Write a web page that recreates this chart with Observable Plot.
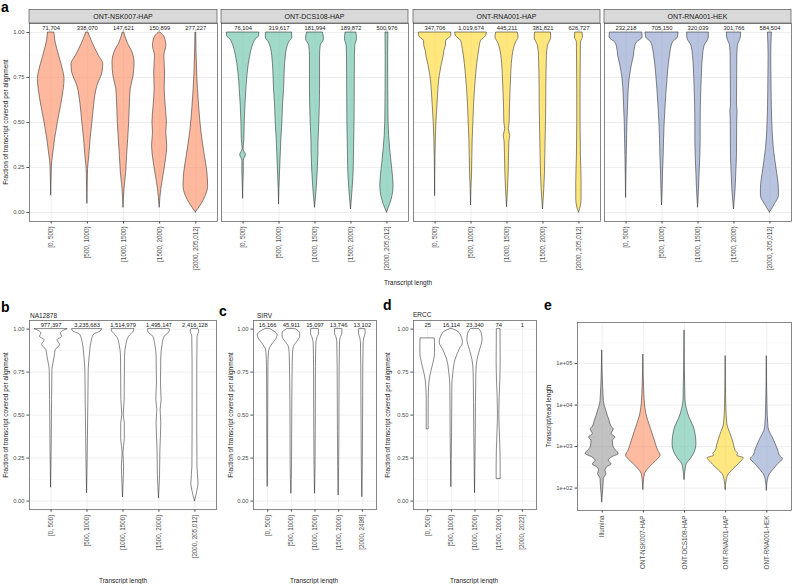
<!DOCTYPE html>
<html><head><meta charset="utf-8">
<script src="https://cdn.jsdelivr.net/npm/d3@7"></script>
<script src="https://cdn.jsdelivr.net/npm/@observablehq/plot@0.6"></script>
<style>
body{margin:0;background:#fff;}
#root{position:relative;width:792px;height:584px;overflow:hidden;background:#fff;}
</style></head><body><div id="root"></div>
<script>
// ---------- data ----------
const binsHuman = ["[0, 500)", "[500, 1000)", "[1000, 1500)", "[1500, 2000)", "[2000, 205,012]"];
const binsSIRV = ["[0, 500)", "[500, 1000)", "[1000, 1500)", "[1500, 2000)", "[2000, 2498]"];
const binsERCC = ["[0, 500)", "[500, 1000)", "[1000, 1500)", "[1500, 2000)", "[2000, 2022]"];
const ontSamples = ["ONT-NSK007-HAP", "ONT-DCS108-HAP", "ONT-RNA001-HAP", "ONT-RNA001-HEK"];
const lengthSamples = ["Illumina", "ONT-NSK007-HAP", "ONT-DCS108-HAP", "ONT-RNA001-HAP", "ONT-RNA001-HEK"];
const sampleColors = ["#999999", "#FC8D62", "#66C2A5", "#FFD92F", "#8DA0CB"];

const countsNSK007 = [71704, 338070, 147621, 150899, 277227];
const countsDCS108 = [76104, 319617, 181994, 189872, 500976];
const countsRNA001HAP = [347706, 1019674, 445211, 381821, 626727];
const countsRNA001HEK = [232218, 705150, 320039, 301766, 584504];
const countsNA12878 = [977397, 3235683, 1514979, 1495147, 2416128];
const countsSIRV = [16166, 45911, 15097, 13746, 13102];
const countsERCC = [25, 16114, 23340, 74, 1];

// violin profiles: [fraction covered, half-width in category units]
const violinNSK007 = [
 [[1,0.088],[0.96,0.11],[0.87,0.22],[0.78,0.34],[0.74,0.37],[0.69,0.35],[0.59,0.27],[0.5,0.185],[0.41,0.11],[0.31,0.046],[0.26,0.02],[0.19,0.01],[0.096,0]],
 [[1,0.03],[0.944,0.14],[0.87,0.32],[0.824,0.44],[0.778,0.42],[0.704,0.28],[0.593,0.185],[0.5,0.14],[0.407,0.09],[0.315,0.055],[0.241,0.02],[0.167,0.01],[0.05,0]],
 [[1,0.02],[0.944,0.11],[0.889,0.25],[0.833,0.305],[0.759,0.28],[0.685,0.2],[0.593,0.175],[0.5,0.157],[0.407,0.13],[0.315,0.1],[0.222,0.074],[0.13,0.028],[0.028,0]],
 [[1,0.02],[0.972,0.14],[0.926,0.185],[0.87,0.13],[0.778,0.15],[0.685,0.14],[0.593,0.167],[0.5,0.2],[0.444,0.185],[0.37,0.21],[0.296,0.176],[0.222,0.12],[0.13,0.046],[0.028,0]],
 [[1,0.01],[0.778,0.037],[0.593,0.09],[0.444,0.157],[0.315,0.25],[0.222,0.32],[0.148,0.34],[0.093,0.28],[0.046,0.157],[0,0]]
];
const violinDCS108 = [
 [[1,0.45],[0.981,0.45],[0.963,0.36],[0.926,0.27],[0.87,0.2],[0.778,0.13],[0.685,0.093],[0.593,0.065],[0.5,0.046],[0.407,0.037],[0.352,0.012],[0.319,0.08],[0.287,0.02],[0.222,0.02],[0.167,0.01],[0.078,0]],
 [[1,0.36],[0.972,0.37],[0.944,0.28],[0.87,0.19],[0.778,0.157],[0.685,0.14],[0.593,0.11],[0.5,0.093],[0.407,0.065],[0.315,0.046],[0.222,0.028],[0.13,0.01],[0.046,0]],
 [[1,0.22],[0.963,0.25],[0.926,0.16],[0.87,0.14],[0.685,0.14],[0.5,0.12],[0.407,0.1],[0.315,0.093],[0.222,0.074],[0.13,0.046],[0.028,0]],
 [[1,0.15],[0.963,0.167],[0.926,0.12],[0.87,0.11],[0.5,0.1],[0.315,0.083],[0.222,0.074],[0.13,0.046],[0.019,0]],
 [[1,0.04],[0.87,0.035],[0.685,0.037],[0.5,0.046],[0.352,0.09],[0.241,0.148],[0.148,0.185],[0.093,0.157],[0.046,0.09],[0,0]]
];
const violinRNA001HAP = [
 [[1,0.45],[0.981,0.45],[0.954,0.31],[0.926,0.3],[0.898,0.26],[0.87,0.24],[0.815,0.18],[0.759,0.13],[0.685,0.093],[0.593,0.065],[0.5,0.037],[0.407,0.02],[0.315,0.01],[0.093,0]],
 [[1,0.44],[0.981,0.42],[0.954,0.28],[0.907,0.23],[0.87,0.2],[0.778,0.148],[0.685,0.11],[0.593,0.083],[0.5,0.065],[0.407,0.046],[0.315,0.037],[0.222,0.028],[0.13,0.01],[0.041,0]],
 [[1,0.3],[0.972,0.32],[0.944,0.25],[0.87,0.157],[0.778,0.12],[0.685,0.1],[0.593,0.083],[0.5,0.074],[0.463,0.05],[0.426,0.09],[0.389,0.065],[0.315,0.056],[0.222,0.046],[0.13,0.028],[0.031,0]],
 [[1,0.22],[0.972,0.23],[0.926,0.14],[0.87,0.11],[0.685,0.093],[0.574,0.09],[0.5,0.083],[0.315,0.065],[0.222,0.056],[0.13,0.037],[0.019,0]],
 [[1,0.1],[0.972,0.11],[0.944,0.056],[0.685,0.046],[0.5,0.046],[0.315,0.056],[0.167,0.074],[0.074,0.074],[0.028,0.046],[0,0]]
];
const violinRNA001HEK = [
 [[1,0.45],[0.972,0.46],[0.944,0.3],[0.917,0.25],[0.87,0.22],[0.815,0.157],[0.759,0.11],[0.685,0.074],[0.593,0.056],[0.5,0.037],[0.407,0.028],[0.315,0.018],[0.083,0]],
 [[1,0.46],[0.972,0.44],[0.944,0.3],[0.87,0.22],[0.778,0.167],[0.685,0.13],[0.593,0.1],[0.5,0.074],[0.407,0.056],[0.315,0.046],[0.222,0.028],[0.13,0.018],[0.041,0]],
 [[1,0.3],[0.972,0.3],[0.926,0.185],[0.87,0.14],[0.778,0.11],[0.685,0.093],[0.5,0.074],[0.407,0.074],[0.315,0.065],[0.222,0.046],[0.13,0.028],[0.028,0]],
 [[1,0.2],[0.972,0.19],[0.926,0.11],[0.87,0.093],[0.593,0.083],[0.565,0.1],[0.5,0.09],[0.315,0.083],[0.222,0.065],[0.13,0.046],[0.019,0]],
 [[1,0.055],[0.87,0.037],[0.685,0.046],[0.5,0.065],[0.352,0.11],[0.241,0.185],[0.13,0.25],[0.093,0.25],[0.046,0.14],[0,0]]
];
const violinNA12878 = [
 [[1,0.46],[0.975,0.27],[0.955,0.31],[0.936,0.18],[0.907,0.25],[0.878,0.13],[0.839,0.1],[0.8,0.065],[0.762,0.037],[0.587,0.028],[0.3,0.015],[0.08,0]],
 [[1,0.42],[0.986,0.38],[0.967,0.19],[0.919,0.12],[0.839,0.074],[0.762,0.046],[0.587,0.037],[0.3,0.02],[0.047,0]],
 [[1,0.32],[0.986,0.3],[0.955,0.167],[0.907,0.093],[0.839,0.056],[0.587,0.046],[0.5,0.02],[0.45,0.05],[0.36,0.05],[0.28,0.01],[0.2,0.03],[0.1,0.015],[0.023,0]],
 [[1,0.3],[0.986,0.3],[0.955,0.157],[0.907,0.1],[0.839,0.065],[0.684,0.056],[0.587,0.074],[0.529,0.046],[0.452,0.065],[0.3,0.04],[0.15,0.03],[0.017,0]],
 [[1,0.1],[0.986,0.12],[0.955,0.074],[0.8,0.065],[0.4,0.065],[0.2,0.07],[0.1,0.1],[0.06,0.07],[0,0]]
];
const violinSIRV = [
 [[1,0.1],[0.984,0.3],[0.965,0.42],[0.945,0.38],[0.92,0.25],[0.89,0.1],[0.86,0.05],[0.78,0.03],[0.5,0.02],[0.2,0.015],[0.085,0]],
 [[1,0.18],[0.975,0.37],[0.955,0.37],[0.926,0.25],[0.897,0.11],[0.859,0.07],[0.78,0.056],[0.587,0.04],[0.2,0.028],[0.045,0]],
 [[1,0.16],[0.975,0.17],[0.947,0.1],[0.916,0.056],[0.78,0.04],[0.4,0.03],[0.2,0.02],[0.045,0]],
 [[1,0.155],[0.975,0.155],[0.947,0.085],[0.916,0.056],[0.78,0.042],[0.4,0.03],[0.2,0.02],[0.035,0]],
 [[1,0.13],[0.975,0.14],[0.947,0.085],[0.916,0.056],[0.78,0.042],[0.4,0.03],[0.2,0.02],[0.025,0]]
];
const violinERCC = [
 [[0.946,0.3],[0.918,0.31],[0.86,0.31],[0.783,0.21],[0.725,0.11],[0.667,0.06],[0.589,0.042],[0.419,0.04]],
 [[1,0.05],[0.977,0.35],[0.919,0.49],[0.88,0.35],[0.822,0.18],[0.744,0.085],[0.667,0.042],[0.395,0.03],[0.083,0]],
 [[1,0.18],[0.977,0.28],[0.938,0.32],[0.88,0.22],[0.822,0.11],[0.744,0.056],[0.395,0.03],[0.048,0]],
 [[1,0.077],[0.8,0.085],[0.7,0.07],[0.6,0.042],[0.5,0.028],[0.4,0.05],[0.3,0.075],[0.2,0.085],[0.13,0.085]],
 []
];
// panel e: [log10(length), half-width]
const violinLengths = [
 [[5.32,0],[4.1,0.04],[3.86,0.1],[3.62,0.18],[3.46,0.24],[3.42,0.28],[3.3,0.23],[3.22,0.32],[3.14,0.26],[2.98,0.28],[2.82,0.4],[2.74,0.24],[2.66,0.16],[2.57,0.23],[2.5,0.12],[2.42,0.08],[2.34,0.1],[2.22,0.04],[2.02,0.03],[1.86,0.016],[1.66,0]],
 [[5.22,0],[4.26,0.024],[3.8,0.07],[3.62,0.12],[3.38,0.2],[3.14,0.28],[2.9,0.36],[2.78,0.42],[2.66,0.32],[2.5,0.16],[2.34,0.04],[2.18,0.016],[1.96,0]],
 [[5.8,0],[4.1,0.024],[3.9,0.06],[3.7,0.12],[3.46,0.23],[3.22,0.28],[3.06,0.29],[2.82,0.23],[2.66,0.12],[2.58,0.056],[2.42,0.024],[2.2,0]],
 [[5.18,0],[4.0,0.015],[3.54,0.04],[3.3,0.12],[3.06,0.2],[2.9,0.24],[2.82,0.3],[2.78,0.28],[2.72,0.44],[2.66,0.4],[2.54,0.28],[2.42,0.16],[2.34,0.08],[2.18,0.024],[1.96,0]],
 [[5.18,0],[4.0,0.015],[3.46,0.04],[3.14,0.18],[2.9,0.28],[2.78,0.32],[2.7,0.39],[2.58,0.28],[2.46,0.18],[2.34,0.08],[2.18,0.024],[1.94,0]]
];

const fracTicks = [0, 0.25, 0.5, 0.75, 1];
const fracMinor = [0.125, 0.375, 0.625, 0.875];
const lenTicks = [1e2, 1e3, 1e4, 1e5];
const lenMinor = [1.5, 2.5, 3.5, 4.5, 5.5].map(v => 10 ** v);

// ---------- drawing ----------
const root = document.getElementById("root");
const FONT = "'Liberation Sans', Arial, Helvetica, sans-serif";
const fmtCount = d3.format(",");

function violinPanel(o) {
  const mL = o.mL ?? 30, mR = 4, mT = 14, mB = 66;
  const w = o.R - o.L, h = o.B - o.T;
  const data = [];
  o.profiles.forEach((prof, k) => prof.forEach(([y, hw]) => data.push({i: k + 1, y: o.log ? 10 ** y : y, hw})));
  data.sort((a, b) => a.i - b.i || a.y - b.y);
  const marks = [
    Plot.gridY(o.minor, {stroke: "#efefef", strokeOpacity: 1, strokeWidth: 0.35}),
    Plot.gridY(o.major, {stroke: "#e4e4e4", strokeOpacity: 1, strokeWidth: 0.6}),
    Plot.gridX([1, 2, 3, 4, 5], {stroke: "#e4e4e4", strokeOpacity: 1, strokeWidth: 0.6}),
    Plot.areaX(data, {
      y: "y", x1: d => d.i - d.hw, x2: d => d.i + d.hw, z: "i",
      fill: d => o.fills[d.i - 1], fillOpacity: o.fillOpacity,
      stroke: "#262626", strokeWidth: 0.55, curve: "monotone-y"
    }),
    Plot.axisX([1, 2, 3, 4, 5], {
      tickFormat: i => o.labels[i - 1], tickRotate: -90, tickSize: 2.5, tickPadding: 2.5,
      fontSize: o.xFont ?? 6.3, label: null, color: "#4d4d4d"
    })
  ];
  if (o.showY) marks.push(Plot.axisY(o.major, {
    tickFormat: o.yFormat, tickSize: 2.5, tickPadding: 2.5, fontSize: 5.8, label: null, color: "#4d4d4d"
  }));
  if (o.counts) marks.push(Plot.text(o.counts, {
    x: (d, i) => i + 1, y: 1, text: d => fmtCount(d), dy: o.countDy ?? -4.3,
    fontSize: 5.8, fill: "#1a1a1a"
  }));
  marks.push(Plot.frame({stroke: "#555", strokeWidth: 0.7}));
  const plot = Plot.plot({
    width: w + mL + mR, height: h + mT + mB,
    marginLeft: mL, marginRight: mR, marginTop: mT, marginBottom: mB,
    x: {domain: [0.4, 5.6]},
    y: {type: o.log ? "log" : "linear", domain: o.yDomain, ...(o.showY ? {} : {axis: null})},
    style: {background: "transparent", fontFamily: FONT, overflow: "visible", maxWidth: "none"},
    marks
  });
  plot.style.position = "absolute";
  plot.style.left = (o.L - mL) + "px";
  plot.style.top = (o.T - mT) + "px";
  root.appendChild(plot);
}

const fracDomain = [-0.05, 1.05];
const fracFmt = d3.format(".2f");
const aT = 23, aB = 221;
const aPanels = [
  {L: 29, R: 217, profiles: violinNSK007, counts: countsNSK007, color: sampleColors[1], showY: true},
  {L: 221, R: 408, profiles: violinDCS108, counts: countsDCS108, color: sampleColors[2]},
  {L: 413, R: 600, profiles: violinRNA001HAP, counts: countsRNA001HAP, color: sampleColors[3]},
  {L: 604, R: 791, profiles: violinRNA001HEK, counts: countsRNA001HEK, color: sampleColors[4]}
];
aPanels.forEach(p => violinPanel({
  L: p.L, R: p.R, T: aT, B: aB, profiles: p.profiles, counts: p.counts,
  fills: Array(5).fill(p.color), fillOpacity: 0.62, labels: binsHuman,
  yDomain: fracDomain, major: fracTicks, minor: fracMinor, yFormat: fracFmt, showY: !!p.showY
}));

const bT = 320.4, bB = 509.6;
violinPanel({L: 29, R: 216, T: bT, B: bB, profiles: violinNA12878, counts: countsNA12878,
  fills: Array(5).fill("white"), fillOpacity: 1, labels: binsHuman,
  yDomain: fracDomain, major: fracTicks, minor: fracMinor, yFormat: fracFmt, showY: true});
violinPanel({L: 253, R: 376, T: bT, B: bB, profiles: violinSIRV, counts: countsSIRV,
  fills: Array(5).fill("white"), fillOpacity: 1, labels: binsSIRV,
  yDomain: fracDomain, major: fracTicks, minor: fracMinor, yFormat: fracFmt, showY: true});
violinPanel({L: 413, R: 536, T: bT, B: bB, profiles: violinERCC, counts: countsERCC,
  fills: Array(5).fill("white"), fillOpacity: 1, labels: binsERCC,
  yDomain: fracDomain, major: fracTicks, minor: fracMinor, yFormat: fracFmt, showY: true});
violinPanel({L: 577, R: 791, T: 322, B: 510, profiles: violinLengths, log: true, mL: 34,
  fills: sampleColors, fillOpacity: 0.6, labels: lengthSamples,
  yDomain: [10 ** 1.46, 10 ** 5.99], major: lenTicks, minor: lenMinor,
  yFormat: d => "1e+0" + Math.round(Math.log10(d)), showY: true});

// ---------- overlay: strips, panel letters, titles ----------
const ns = "http://www.w3.org/2000/svg";
const ov = document.createElementNS(ns, "svg");
ov.setAttribute("width", 792); ov.setAttribute("height", 584);
ov.style.cssText = "position:absolute;left:0;top:0;pointer-events:none;font-family:" + FONT;
root.appendChild(ov);
function txt(s, x, y, opts = {}) {
  const t = document.createElementNS(ns, "text");
  t.textContent = s;
  t.setAttribute("x", x); t.setAttribute("y", y);
  t.setAttribute("font-size", opts.size ?? 6.5);
  t.setAttribute("fill", opts.fill ?? "#1a1a1a");
  t.setAttribute("text-anchor", opts.anchor ?? "start");
  t.setAttribute("dominant-baseline", opts.baseline ?? "central");
  if (opts.weight) t.setAttribute("font-weight", opts.weight);
  if (opts.rotate) t.setAttribute("transform", `rotate(${opts.rotate},${x},${y})`);
  ov.appendChild(t);
}
aPanels.forEach((p, k) => {
  const r = document.createElementNS(ns, "rect");
  r.setAttribute("x", p.L); r.setAttribute("y", 9.5);
  r.setAttribute("width", p.R - p.L); r.setAttribute("height", aT - 9.5);
  r.setAttribute("fill", "#d9d9d9"); r.setAttribute("stroke", "#555"); r.setAttribute("stroke-width", 0.7);
  ov.appendChild(r);
  txt(ontSamples[k], (p.L + p.R) / 2, 16.5, {anchor: "middle", size: 7});
});
const yTitle = "Fraction of transcript covered per alignment";
txt(yTitle, 5, (aT + aB) / 2, {anchor: "middle", rotate: -90});
txt("Transcript length", 408, 282, {anchor: "middle"});
txt(yTitle, 5, (bT + bB) / 2, {anchor: "middle", rotate: -90});
txt(yTitle, 230, (bT + bB) / 2, {anchor: "middle", rotate: -90});
txt(yTitle, 387, (bT + bB) / 2, {anchor: "middle", rotate: -90});
txt("Transcript/read length", 548, 416, {anchor: "middle", rotate: -90});
txt("Transcript length", 123, 580, {anchor: "middle"});
txt("Transcript length", 314, 580, {anchor: "middle"});
txt("Transcript length", 474, 580, {anchor: "middle"});
txt("NA12878", 30, 315);
txt("SIRV", 257, 315);
txt("ERCC", 413, 314);
const L = {size: 14, weight: "bold", baseline: "alphabetic", fill: "#000"};
txt("a", 1, 12, L);
txt("b", 1, 312, L);
txt("c", 219, 316, L);
txt("d", 383, 310, L);
txt("e", 544, 310, L);
</script></body></html>
